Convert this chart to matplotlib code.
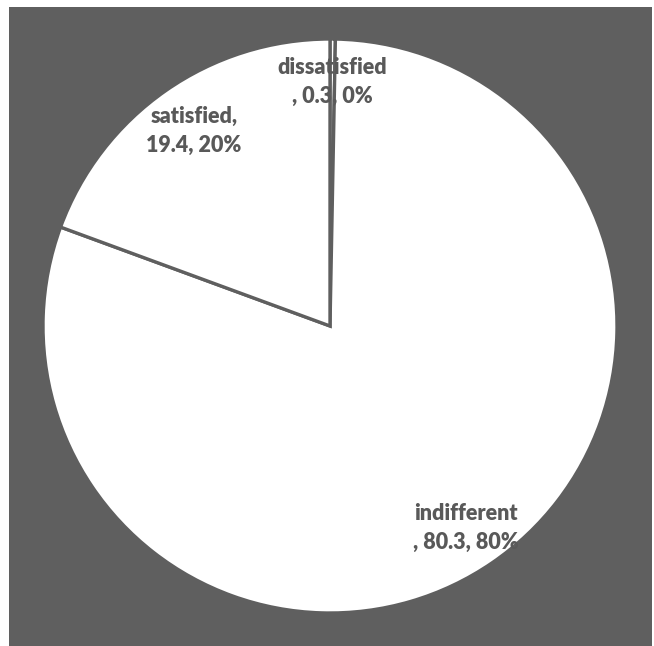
import matplotlib
matplotlib.use("Agg")
import matplotlib.pyplot as plt
from matplotlib.patches import Rectangle

labels = ["dissatisfied", "indifferent", "satisfied"]
values = [0.3, 80.3, 19.4]
pcts = ["0%", "80%", "20%"]
# label text layout (excel style wrapping)
texts = ["dissatisfied\n, 0.3, 0%", "indifferent\n, 80.3, 80%", "satisfied,\n19.4, 20%"]
text_xy = [(332, 564), (466, 118), (194, 515)]

GRIS = "#5f5f5f"
W, H = 654, 646
fig = plt.figure(figsize=(W/100, H/100), dpi=100)
ax = fig.add_axes([0, 0, 1, 1])
ax.add_patch(Rectangle((9, 0), 643, 639, facecolor=GRIS, edgecolor="none", zorder=0))
ax.pie(values, center=(330, 320), radius=287, startangle=90, counterclock=False,
       colors=["white"]*3, wedgeprops=dict(edgecolor=GRIS, linewidth=2.4), frame=True)
ax.set_xlim(0, W); ax.set_ylim(0, H); ax.set_aspect("auto"); ax.axis("off")
for t, (x, y) in zip(texts, text_xy):
    ax.text(x, y, t, ha="center", va="center", fontsize=15.5, fontweight="heavy",
            family="Lato", color="#595959", linespacing=1.45, zorder=5)
fig.savefig("out.png", dpi=100)
